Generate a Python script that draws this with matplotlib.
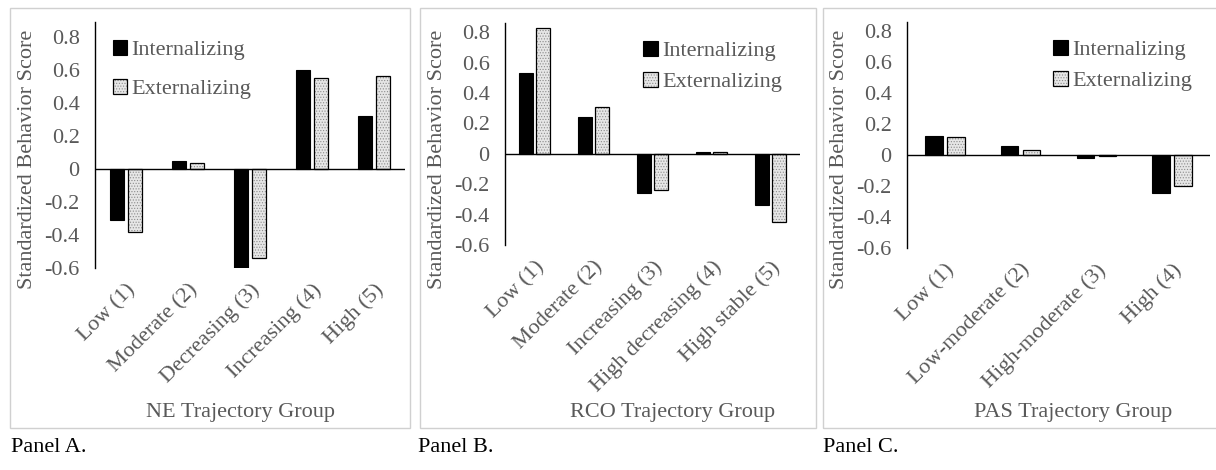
import numpy as np
import matplotlib
matplotlib.use("Agg")
import matplotlib.pyplot as plt
from matplotlib.patches import Rectangle

plt.rcParams['font.family'] = ['Liberation Serif', 'DejaVu Serif']
plt.rcParams['axes.unicode_minus'] = False
plt.rcParams['hatch.linewidth'] = 0.5

GREY_TXT = '#595959'

# data
ne_groups = ["Low (1)", "Moderate (2)", "Decreasing (3)", "Increasing (4)", "High (5)"]
ne_int = [-0.31, 0.05, -0.60, 0.60, 0.32]
ne_ext = [-0.38, 0.035, -0.54, 0.55, 0.56]

rco_groups = ["Low (1)", "Moderate (2)", "Increasing (3)", "High decreasing (4)", "High stable (5)"]
rco_int = [0.53, 0.24, -0.26, 0.01, -0.34]
rco_ext = [0.83, 0.31, -0.24, 0.01, -0.45]

pas_groups = ["Low (1)", "Low-moderate (2)", "High-moderate (3)", "High (4)"]
pas_int = [0.125, 0.06, -0.02, -0.245]
pas_ext = [0.115, 0.03, -0.005, -0.20]

y_ticks = [-0.6, -0.4, -0.2, 0, 0.2, 0.4, 0.6, 0.8]
y_ticklabels = ["-0.6", "-0.4", "-0.2", "0", "0.2", "0.4", "0.6", "0.8"]

series_names = ["Internalizing", "Externalizing"]
xlabels = ["NE Trajectory Group", "RCO Trajectory Group", "PAS Trajectory Group"]
panel_names = ["Panel A.", "Panel B.", "Panel C."]

W, H = 1216, 470
fig = plt.figure(figsize=(W / 100, H / 100), dpi=100)

def px(x, y):
    return x / W, 1 - y / H

# panel frames
for x0, x1 in [(10, 410), (420, 816), (823, 1230)]:
    fig.patches.append(Rectangle(px(x0, 428), (x1 - x0) / W, 420 / H,
                                 transform=fig.transFigure, fill=False,
                                 edgecolor='#d0d0d0', lw=1.0))

panels = [
    (ne_groups, ne_int, ne_ext, (95, 405, 22, 268), 0.89, 'upper left', 0.85),
    (rco_groups, rco_int, rco_ext, (505, 800, 23, 245), 0.86, 'upper right', 0.5),
    (pas_groups, pas_int, pas_ext, (907, 1210, 22, 248), 0.86, 'upper right', 0.5),
]
xl_pos = [(240, 413), (673, 413), (1073, 413)]
yl_pos = [(28, 159), (437, 159), (840, 159)]
pn_pos = [(11, 447), (418, 447), (823, 447)]

FS = 16
bw = 0.23
off = 0.145
for i, (groups, vint, vext, (l, r, t, b), ytop, loc, lsp) in enumerate(panels):
    ax = fig.add_axes([l / W, 1 - b / H, (r - l) / W, (b - t) / H])
    x = np.arange(len(groups))
    h1 = ax.bar(x - off, vint, bw, color='black', edgecolor='black', lw=0.8, zorder=3)
    hf = ax.bar(x + off, vext, bw, color='#e6e6e6', edgecolor='#8c8c8c',
                hatch='......', lw=0, zorder=3)
    ho = ax.bar(x + off, vext, bw, fill=False, edgecolor='black', lw=0.9, zorder=4)
    ax.axhline(0, color='black', lw=1.0, zorder=5)
    ax.set_xlim(-0.5, len(groups) - 0.5)
    ax.set_ylim(-0.6, ytop)
    ax.set_yticks(y_ticks)
    ax.set_yticklabels(y_ticklabels)
    ax.set_xticks(x)
    ax.set_xticklabels(groups, rotation=45, ha='right', rotation_mode='anchor')
    ax.tick_params(axis='y', length=0, pad=11, labelsize=FS, labelcolor=GREY_TXT)
    ax.tick_params(axis='x', length=0, pad=9, labelsize=FS, labelcolor=GREY_TXT)
    for s in ['top', 'right', 'bottom']:
        ax.spines[s].set_visible(False)
    ax.spines['left'].set_color('black')
    ax.spines['left'].set_linewidth(1.0)
    ax.patch.set_alpha(0)
    leg = ax.legend([h1[0], (hf[0], ho[0])], series_names, loc=loc, frameon=False,
                    fontsize=FS, handlelength=0.65, handleheight=0.65,
                    handletextpad=0.2, labelspacing=lsp, borderaxespad=0.4)
    for txt in leg.get_texts():
        txt.set_color(GREY_TXT)
    fig.text(*px(*xl_pos[i]), xlabels[i], ha='center', va='center',
             fontsize=FS, color=GREY_TXT)
    fig.text(*px(*yl_pos[i]), "Standardized Behavior Score", ha='center', va='center',
             rotation=90, fontsize=FS, color=GREY_TXT)
    fig.text(*px(*pn_pos[i]), panel_names[i], ha='left', va='center',
             fontsize=FS, color='black')

fig.savefig("out.png", dpi=100)
